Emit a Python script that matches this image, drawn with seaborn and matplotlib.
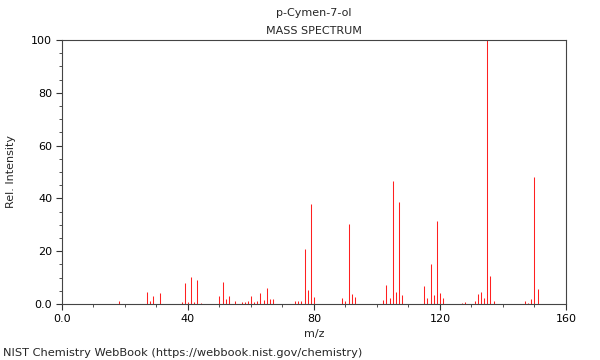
import matplotlib
matplotlib.use("Agg")
import matplotlib.pyplot as plt
import seaborn as sns
from matplotlib.ticker import MultipleLocator, FixedLocator

# peak list
mz = [18, 27, 28, 29, 31, 38, 39, 40, 41, 42, 43, 44,
      50, 51, 52, 53, 55, 57, 58, 59, 60, 61, 62, 63, 64, 65, 66, 67,
      74, 75, 76, 77, 78, 79, 80, 89, 90, 91, 92, 93,
      102, 103, 104, 105, 106, 107, 108, 115, 116, 117, 118, 119, 120, 121,
      127, 128, 131, 132, 133, 134, 135, 136, 137, 147, 148, 149, 150, 151]
intensity = [1.1, 4.5, 1.0, 3.1, 4.1, 0.8, 7.9, 0.8, 10.2, 0.8, 8.9, 0.3,
             2.9, 8.4, 1.8, 3.0, 1.3, 0.9, 0.7, 1.0, 3.1, 0.7, 1.1, 4.0, 1.5, 6.2, 2.0, 2.0,
             1.0, 1.2, 1.2, 20.9, 5.3, 38.0, 2.8, 2.4, 1.0, 30.3, 3.8, 2.8,
             1.5, 7.3, 2.4, 46.4, 4.7, 38.7, 3.3, 6.7, 2.2, 15.2, 3.4, 31.3, 4.0, 2.2,
             0.4, 0.6, 1.1, 3.7, 4.7, 2.2, 100.0, 10.7, 1.0, 1.0, 0.5, 2.0, 48.1, 5.5]

x_major = [0, 40, 80, 120, 160]
x_labels = ["0.0", "40", "80", "120", "160"]
y_major = [0, 20, 40, 60, 80, 100]
y_labels = ["0.0", "20", "40", "60", "80", "100"]

sns.set_theme(style="ticks")
plt.rcParams['font.family'] = ['DejaVu Sans']

fig = plt.figure(figsize=(6, 3.6), dpi=100)
ax = fig.add_axes([0.1033, 0.1556, 0.84, 0.7333])

ax.vlines(mz, 0, intensity, color="#ff2020", linewidth=0.75)

ax.set_xlim(0, 160)
ax.set_ylim(0, 100)
ax.xaxis.set_major_locator(FixedLocator(x_major))
ax.set_xticklabels(x_labels, fontsize=8)
ax.xaxis.set_minor_locator(MultipleLocator(10))
ax.yaxis.set_major_locator(FixedLocator(y_major))
ax.set_yticklabels(y_labels, fontsize=8)
ax.yaxis.set_minor_locator(MultipleLocator(5))
ax.tick_params(which="major", direction="out", length=4, width=0.8, colors="#333333", labelcolor="black", pad=3)
ax.tick_params(which="minor", direction="out", length=2.5, width=0.6, colors="#333333")
for s in ax.spines.values():
    s.set_visible(True)
    s.set_color("#444444")
    s.set_linewidth(0.8)

ax.set_xlabel("m/z", fontsize=8, labelpad=4)
ax.set_ylabel("Rel. Intensity", fontsize=8, labelpad=11)

fig.text(0.523, 0.963, "p-Cymen-7-ol", ha="center", va="center", fontsize=8)
fig.text(0.523, 0.915, "MASS SPECTRUM", ha="center", va="center", fontsize=8)
fig.text(0.005, 0.02, "NIST Chemistry WebBook (https://webbook.nist.gov/chemistry)",
         ha="left", va="center", fontsize=8.2)

fig.savefig("out.png", dpi=100)
